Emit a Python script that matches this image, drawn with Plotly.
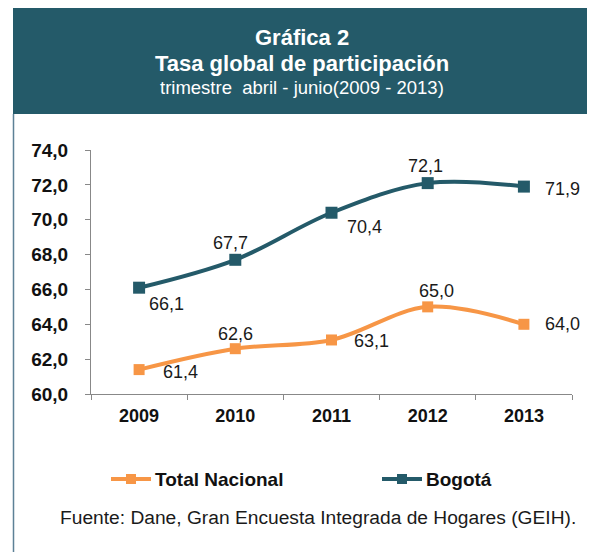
import plotly.graph_objects as go

years = ["2009", "2010", "2011", "2012", "2013"]
total_nacional = [61.4, 62.6, 63.1, 65.0, 64.0]
bogota = [66.1, 67.7, 70.4, 72.1, 71.9]
series_names = ["Total Nacional", "Bogotá"]

# label offsets in px (dx, dy) relative to each point
off_nac = [(41, 2), (0, -15), (40, 1), (9, -16), (39, 0)]
off_bog = [(27, 16), (-5, -17), (33, 14), (-2, -17), (39, 2)]

# page coordinates (the page body adds an 8px margin)
PAGE_W, PAGE_H, OFF = 595, 552, 8
L, R, T, B = 91, 572, 150, 394
BLUE = "#245a69"
ORANGE = "#f79646"
FONT = "Liberation Sans, Arial, sans-serif"


def px(x):
    return (x - L) / (R - L)


def py(y):
    return (B - y) / (B - T)


fig = go.Figure()
fig.add_trace(go.Scatter(x=years, y=total_nacional, name=series_names[0], mode="lines+markers",
                         line=dict(color=ORANGE, width=4, shape="spline", smoothing=1),
                         marker=dict(symbol="square", size=11, color=ORANGE)))
fig.add_trace(go.Scatter(x=years, y=bogota, name=series_names[1], mode="lines+markers",
                         line=dict(color=BLUE, width=4, shape="spline", smoothing=1),
                         marker=dict(symbol="square", size=12, color=BLUE)))

ann = []
for vals, offs in ((total_nacional, off_nac), (bogota, off_bog)):
    for i, (v, (dx, dy)) in enumerate(zip(vals, offs)):
        ann.append(dict(x=i, y=v, xref="x", yref="y", text=f"{v:.1f}".replace(".", ","),
                        showarrow=False, xshift=dx, yshift=-dy, xanchor="center", yanchor="middle",
                        font=dict(family=FONT, size=18, color="#1a1a1a")))

ann += [
    dict(x=px(302), y=py(38), text="<b>Gráfica 2</b>", font=dict(family=FONT, size=22, color="white")),
    dict(x=px(302), y=py(63), text="<b>Tasa global de participación</b>",
         font=dict(family=FONT, size=22, color="white")),
    dict(x=px(302), y=py(87), text="trimestre  abril - junio(2009 - 2013)",
         font=dict(family=FONT, size=18.5, color="white")),
    dict(x=px(58), y=py(517), xanchor="left", text="Fuente: Dane, Gran Encuesta Integrada de Hogares (GEIH).",
         font=dict(family=FONT, size=19.2, color="#1a1a1a")),
]

shapes = [
    dict(type="rect", xref="paper", yref="paper", x0=px(13), x1=px(592), y0=py(114), y1=py(5),
         fillcolor=BLUE, line=dict(width=0), layer="below"),
    dict(type="line", xref="paper", yref="paper", x0=px(13.5), x1=px(13.5), y0=py(114), y1=py(552),
         line=dict(color="#5d8196", width=1.5)),
    dict(type="line", xref="paper", yref="paper", x0=px(591.5), x1=px(591.5), y0=py(114), y1=py(549),
         line=dict(color="#5d8196", width=1.5)),
]

# legend drawn by hand: 40px line with a square, bold label
for name, color, x0 in ((series_names[0], ORANGE, 111), (series_names[1], BLUE, 382)):
    ly = py(479)
    shapes.append(dict(type="line", xref="paper", yref="paper", x0=px(x0), x1=px(x0 + 40), y0=ly, y1=ly,
                       line=dict(color=color, width=4)))
    shapes.append(dict(type="rect", xref="paper", yref="paper", x0=px(x0 + 15), x1=px(x0 + 25),
                       y0=py(484), y1=py(474), fillcolor=color, line=dict(width=0)))
    ann.append(dict(x=px(x0 + 42), y=ly, xanchor="left", text=f"<b>{name}</b>",
                    font=dict(family=FONT, size=19, color="#111111")))

for a in ann:
    a.setdefault("xref", "paper")
    a.setdefault("yref", "paper")
    a.setdefault("xanchor", "center")
    a.setdefault("yanchor", "middle")
    a["showarrow"] = False

fig.update_layout(
    width=PAGE_W - OFF, height=PAGE_H - OFF,
    margin=dict(l=L - OFF, r=PAGE_W - R, t=T - OFF, b=PAGE_H - B),
    paper_bgcolor="white", plot_bgcolor="white",
    separators=",.",
    annotations=ann, shapes=shapes,
    showlegend=False,
    xaxis=dict(type="category", range=[-0.5, 4.5], tickson="boundaries", showline=True,
               linecolor="#888888", linewidth=1, ticks="outside", ticklen=5, tickcolor="#888888",
               showgrid=False, zeroline=False, ticklabelstandoff=5,
               tickfont=dict(family=FONT, size=18, color="#111111", weight="bold")),
    yaxis=dict(range=[60, 74], dtick=2, tickformat=".1f", showline=True, linecolor="#888888", linewidth=1,
               ticks="outside", ticklen=5, tickcolor="#888888", showgrid=False, zeroline=False,
               ticklabelstandoff=13,
               tickfont=dict(family=FONT, size=19, color="#111111", weight="bold")),
)

fig.write_html("out.html")
